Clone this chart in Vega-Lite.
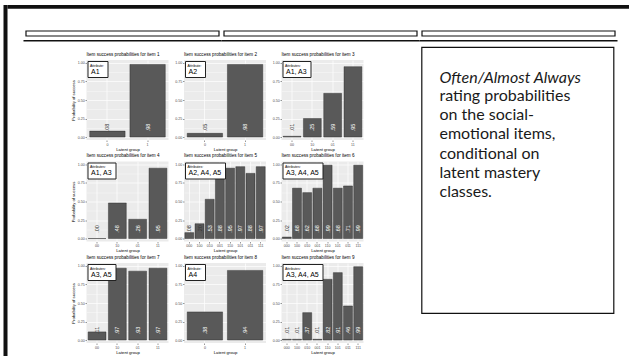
{
"$schema": "https://vega.github.io/schema/vega-lite/v6.json",
"padding": {"left": 3.5, "top": 5, "right": 0, "bottom": 0},
"background": "white",
"datasets": {
"d": [
{"item":1,"g":"0","p":0.08,"lab":".08","attr":"A1"},
{"item":1,"g":"1","p":0.98,"lab":".98","attr":"A1"},
{"item":2,"g":"0","p":0.05,"lab":".05","attr":"A2"},
{"item":2,"g":"1","p":0.98,"lab":".98","attr":"A2"},
{"item":3,"g":"00","p":0.01,"lab":".01","attr":"A1, A3"},
{"item":3,"g":"10","p":0.25,"lab":".25","attr":"A1, A3"},
{"item":3,"g":"01","p":0.59,"lab":".59","attr":"A1, A3"},
{"item":3,"g":"11","p":0.95,"lab":".95","attr":"A1, A3"},
{"item":4,"g":"00","p":0.0,"lab":".00","attr":"A1, A3"},
{"item":4,"g":"10","p":0.48,"lab":".48","attr":"A1, A3"},
{"item":4,"g":"01","p":0.26,"lab":".26","attr":"A1, A3"},
{"item":4,"g":"11","p":0.95,"lab":".95","attr":"A1, A3"},
{"item":5,"g":"000","p":0.08,"lab":".08","attr":"A2, A4, A5"},
{"item":5,"g":"100","p":0.2,"lab":".20","attr":"A2, A4, A5"},
{"item":5,"g":"010","p":0.53,"lab":".53","attr":"A2, A4, A5"},
{"item":5,"g":"001","p":0.88,"lab":".88","attr":"A2, A4, A5"},
{"item":5,"g":"110","p":0.95,"lab":".95","attr":"A2, A4, A5"},
{"item":5,"g":"101","p":0.97,"lab":".97","attr":"A2, A4, A5"},
{"item":5,"g":"011","p":0.88,"lab":".88","attr":"A2, A4, A5"},
{"item":5,"g":"111","p":0.97,"lab":".97","attr":"A2, A4, A5"},
{"item":6,"g":"000","p":0.02,"lab":".02","attr":"A3, A4, A5"},
{"item":6,"g":"100","p":0.68,"lab":".68","attr":"A3, A4, A5"},
{"item":6,"g":"010","p":0.62,"lab":".62","attr":"A3, A4, A5"},
{"item":6,"g":"001","p":0.68,"lab":".68","attr":"A3, A4, A5"},
{"item":6,"g":"110","p":0.99,"lab":".99","attr":"A3, A4, A5"},
{"item":6,"g":"101","p":0.68,"lab":".68","attr":"A3, A4, A5"},
{"item":6,"g":"011","p":0.71,"lab":".71","attr":"A3, A4, A5"},
{"item":6,"g":"111","p":0.99,"lab":".99","attr":"A3, A4, A5"},
{"item":7,"g":"00","p":0.11,"lab":".11","attr":"A3, A5"},
{"item":7,"g":"10","p":0.97,"lab":".97","attr":"A3, A5"},
{"item":7,"g":"01","p":0.93,"lab":".93","attr":"A3, A5"},
{"item":7,"g":"11","p":0.97,"lab":".97","attr":"A3, A5"},
{"item":8,"g":"0","p":0.38,"lab":".38","attr":"A4"},
{"item":8,"g":"1","p":0.94,"lab":".94","attr":"A4"},
{"item":9,"g":"000","p":0.01,"lab":".01","attr":"A3, A4, A5"},
{"item":9,"g":"100","p":0.01,"lab":".01","attr":"A3, A4, A5"},
{"item":9,"g":"010","p":0.37,"lab":".37","attr":"A3, A4, A5"},
{"item":9,"g":"001","p":0.01,"lab":".01","attr":"A3, A4, A5"},
{"item":9,"g":"110","p":0.82,"lab":".82","attr":"A3, A4, A5"},
{"item":9,"g":"101","p":0.91,"lab":".91","attr":"A3, A4, A5"},
{"item":9,"g":"011","p":0.46,"lab":".46","attr":"A3, A4, A5"},
{"item":9,"g":"111","p":0.99,"lab":".99","attr":"A3, A4, A5"}
],
"seg": [{"s":"1"},{"s":"2"},{"s":"3"}],
"one": [{}]
},
"config": {
"view": {"stroke": null},
"font": "Liberation Sans",
"axis": {"labelFont": "Liberation Sans", "labelFontSize": 3.6, "labelColor": "#4D4D4D", "tickColor": "#333", "tickSize": 1.5, "tickWidth": 0.5, "domain": false, "gridColor": "white", "gridWidth": 0.7, "labelPadding": 0.8, "titleFont": "Liberation Sans", "titleFontSize": 4.2, "titleFontWeight": "normal", "titleColor": "black", "titlePadding": 1.5},
"axisX": {"labelAngle": 0, "grid": true},
"axisY": {"grid": true},
"title": {"font": "Liberation Sans", "fontSize": 4.6, "fontWeight": "normal", "color": "black", "anchor": "start", "frame": "group", "offset": 3.5},
"legend": {"orient": "top-left", "offset": 1, "fillColor": "white", "strokeColor": "#222", "padding": 2.5, "titleFont": "Liberation Sans", "titleFontSize": 3.5, "titleFontWeight": "normal", "titleColor": "black", "titlePadding": 1, "labelFont": "Liberation Sans", "labelFontSize": 7, "labelColor": "black", "symbolSize": 0, "symbolStrokeWidth": 0, "labelOffset": -6, "rowPadding": 0, "cornerRadius": 0}
},
"bounds": "flush", "spacing": 0,
"resolve": {"scale": {"x": "independent", "y": "independent", "color": "independent"}, "legend": {"color": "independent"}, "axis": {"x": "independent", "y": "independent"}},
"hconcat": [
{"width": 4, "height": 351, "view": {"fill": "#111"}, "data": {"name": "one"}, "mark": {"type": "text", "fontSize": 0}, "encoding": {"text": {"value": ""}}},
{"bounds": "flush", "spacing": 0,
"resolve": {"scale": {"x": "independent", "y": "independent", "color": "independent"}, "legend": {"color": "independent"}, "axis": {"x": "independent", "y": "independent"}},
"vconcat": [
{"width": 623, "height": 3.7, "view": {"fill": "#111"}, "data": {"name": "one"}, "mark": {"type": "text", "fontSize": 0}, "encoding": {"text": {"value": ""}}},
{"width": 1, "height": 21.3, "data": {"name": "one"}, "mark": {"type": "text", "fontSize": 0}, "encoding": {"text": {"value": ""}}},
{"width": 626, "height": 5, "data": {"name": "seg"}, "mark": {"type": "bar", "fill": "white", "stroke": "#111", "strokeWidth": 1.2},
 "encoding": {"x": {"field": "s", "type": "nominal", "axis": null, "scale": {"paddingInner": 0.02525, "paddingOuter": 0.0934}}}},
{"width": 1, "height": 3.2, "data": {"name": "one"}, "mark": {"type": "text", "fontSize": 0}, "encoding": {"text": {"value": ""}}},
{"width": 626, "height": 1.5, "data": {"name": "seg"}, "mark": {"type": "bar", "fill": "#111", "width": {"band": 1.026}},
 "encoding": {"x": {"field": "s", "type": "nominal", "axis": null, "scale": {"paddingInner": 0.02525, "paddingOuter": 0.0934}}}},
{"width": 1, "height": 4.3, "data": {"name": "one"}, "mark": {"type": "text", "fontSize": 0}, "encoding": {"text": {"value": ""}}},
{"bounds": "flush", "spacing": 0,
"resolve": {"scale": {"x": "independent", "y": "independent", "color": "independent"}, "legend": {"color": "independent"}, "axis": {"x": "independent", "y": "independent"}},
"hconcat": [
{"width": 78.5, "height": 1, "data": {"name": "one"}, "mark": {"type": "text", "fontSize": 0}, "encoding": {"text": {"value": ""}}},
{"bounds": "flush", "spacing": 0,
"resolve": {"scale": {"x": "independent", "y": "independent", "color": "independent"}, "legend": {"color": "independent"}, "axis": {"x": "independent", "y": "independent"}},
"vconcat": [
{"width": 1, "height": 13, "data": {"name": "one"}, "mark": {"type": "text", "fontSize": 0}, "encoding": {"text": {"value": ""}}},
{"bounds": "flush", "columns": 3, "spacing": {"row": 21.5, "column": 15.5},
"resolve": {"scale": {"x": "independent", "y": "independent", "color": "independent"}, "legend": {"color": "independent"}, "axis": {"x": "independent", "y": "independent"}},
"concat": [
{"width": 82, "height": 80, "view": {"fill": "#EBEBEB"}, "title": "Item success probabilities for item 1", "data": {"name": "d"}, "transform": [{"filter": "datum.item == 1"}],
 "encoding": {"x": {"field": "g", "type": "nominal", "sort": null, "title": "Latent group", "scale": {"paddingInner": 0.12, "paddingOuter": 0.08}}},
 "resolve": {"axis": {"y": "independent"}},
 "layer": [
  {"mark": {"type": "bar", "stroke": "#222", "strokeWidth": 0.4},
   "encoding": {"y": {"field": "p", "type": "quantitative", "title": "Probability of success", "scale": {"domain": [-0.04, 1.04], "nice": false}, "axis": {"values": [0, 0.25, 0.5, 0.75, 1], "format": ".2f"}},
    "color": {"field": "attr", "type": "nominal", "scale": {"range": ["#595959"]}, "legend": {"title": "Attribute:", "symbolSize": 0, "symbolType": "stroke"}}}},
  {"mark": {"type": "text", "angle": 270, "fontSize": 5.5, "baseline": "middle", "align": "center"},
   "encoding": {"y": {"datum": 0.13, "axis": {"values": [0.125, 0.375, 0.625, 0.875], "labels": false, "ticks": false, "domain": false, "grid": true, "gridWidth": 0.35, "title": null, "orient": "left"}}, "text": {"field": "lab"}, "color": {"condition": {"test": "datum.p > 0.2", "value": "white"}, "value": "#333"}}}
 ]},
{"width": 82, "height": 80, "view": {"fill": "#EBEBEB"}, "title": "Item success probabilities for item 2", "data": {"name": "d"}, "transform": [{"filter": "datum.item == 2"}],
 "encoding": {"x": {"field": "g", "type": "nominal", "sort": null, "title": "Latent group", "scale": {"paddingInner": 0.12, "paddingOuter": 0.08}}},
 "resolve": {"axis": {"y": "independent"}},
 "layer": [
  {"mark": {"type": "bar", "stroke": "#222", "strokeWidth": 0.4},
   "encoding": {"y": {"field": "p", "type": "quantitative", "title": null, "scale": {"domain": [-0.04, 1.04], "nice": false}, "axis": {"values": [0, 0.25, 0.5, 0.75, 1], "format": ".2f"}},
    "color": {"field": "attr", "type": "nominal", "scale": {"range": ["#595959"]}, "legend": {"title": "Attribute:", "symbolSize": 0, "symbolType": "stroke"}}}},
  {"mark": {"type": "text", "angle": 270, "fontSize": 5.5, "baseline": "middle", "align": "center"},
   "encoding": {"y": {"datum": 0.13, "axis": {"values": [0.125, 0.375, 0.625, 0.875], "labels": false, "ticks": false, "domain": false, "grid": true, "gridWidth": 0.35, "title": null, "orient": "left"}}, "text": {"field": "lab"}, "color": {"condition": {"test": "datum.p > 0.2", "value": "white"}, "value": "#333"}}}
 ]},
{"width": 82, "height": 80, "view": {"fill": "#EBEBEB"}, "title": "Item success probabilities for item 3", "data": {"name": "d"}, "transform": [{"filter": "datum.item == 3"}],
 "encoding": {"x": {"field": "g", "type": "nominal", "sort": null, "title": "Latent group", "scale": {"paddingInner": 0.12, "paddingOuter": 0.08}}},
 "resolve": {"axis": {"y": "independent"}},
 "layer": [
  {"mark": {"type": "bar", "stroke": "#222", "strokeWidth": 0.4},
   "encoding": {"y": {"field": "p", "type": "quantitative", "title": null, "scale": {"domain": [-0.04, 1.04], "nice": false}, "axis": {"values": [0, 0.25, 0.5, 0.75, 1], "format": ".2f"}},
    "color": {"field": "attr", "type": "nominal", "scale": {"range": ["#595959"]}, "legend": {"title": "Attributes:", "symbolSize": 0, "symbolType": "stroke"}}}},
  {"mark": {"type": "text", "angle": 270, "fontSize": 5.5, "baseline": "middle", "align": "center"},
   "encoding": {"y": {"datum": 0.13, "axis": {"values": [0.125, 0.375, 0.625, 0.875], "labels": false, "ticks": false, "domain": false, "grid": true, "gridWidth": 0.35, "title": null, "orient": "left"}}, "text": {"field": "lab"}, "color": {"condition": {"test": "datum.p > 0.2", "value": "white"}, "value": "#333"}}}
 ]},
{"width": 82, "height": 80, "view": {"fill": "#EBEBEB"}, "title": "Item success probabilities for item 4", "data": {"name": "d"}, "transform": [{"filter": "datum.item == 4"}],
 "encoding": {"x": {"field": "g", "type": "nominal", "sort": null, "title": "Latent group", "scale": {"paddingInner": 0.12, "paddingOuter": 0.08}}},
 "resolve": {"axis": {"y": "independent"}},
 "layer": [
  {"mark": {"type": "bar", "stroke": "#222", "strokeWidth": 0.4},
   "encoding": {"y": {"field": "p", "type": "quantitative", "title": "Probability of success", "scale": {"domain": [-0.04, 1.04], "nice": false}, "axis": {"values": [0, 0.25, 0.5, 0.75, 1], "format": ".2f"}},
    "color": {"field": "attr", "type": "nominal", "scale": {"range": ["#595959"]}, "legend": {"title": "Attributes:", "symbolSize": 0, "symbolType": "stroke"}}}},
  {"mark": {"type": "text", "angle": 270, "fontSize": 5.5, "baseline": "middle", "align": "center"},
   "encoding": {"y": {"datum": 0.13, "axis": {"values": [0.125, 0.375, 0.625, 0.875], "labels": false, "ticks": false, "domain": false, "grid": true, "gridWidth": 0.35, "title": null, "orient": "left"}}, "text": {"field": "lab"}, "color": {"condition": {"test": "datum.p > 0.2", "value": "white"}, "value": "#333"}}}
 ]},
{"width": 82, "height": 80, "view": {"fill": "#EBEBEB"}, "title": "Item success probabilities for item 5", "data": {"name": "d"}, "transform": [{"filter": "datum.item == 5"}],
 "encoding": {"x": {"field": "g", "type": "nominal", "sort": null, "title": "Latent group", "scale": {"paddingInner": 0.12, "paddingOuter": 0.08}}},
 "resolve": {"axis": {"y": "independent"}},
 "layer": [
  {"mark": {"type": "bar", "stroke": "#222", "strokeWidth": 0.4},
   "encoding": {"y": {"field": "p", "type": "quantitative", "title": null, "scale": {"domain": [-0.04, 1.04], "nice": false}, "axis": {"values": [0, 0.25, 0.5, 0.75, 1], "format": ".2f"}},
    "color": {"field": "attr", "type": "nominal", "scale": {"range": ["#595959"]}, "legend": {"title": "Attributes:", "symbolSize": 0, "symbolType": "stroke"}}}},
  {"mark": {"type": "text", "angle": 270, "fontSize": 5.5, "baseline": "middle", "align": "center"},
   "encoding": {"y": {"datum": 0.13, "axis": {"values": [0.125, 0.375, 0.625, 0.875], "labels": false, "ticks": false, "domain": false, "grid": true, "gridWidth": 0.35, "title": null, "orient": "left"}}, "text": {"field": "lab"}, "color": {"condition": {"test": "datum.p > 0.2", "value": "white"}, "value": "#333"}}}
 ]},
{"width": 82, "height": 80, "view": {"fill": "#EBEBEB"}, "title": "Item success probabilities for item 6", "data": {"name": "d"}, "transform": [{"filter": "datum.item == 6"}],
 "encoding": {"x": {"field": "g", "type": "nominal", "sort": null, "title": "Latent group", "scale": {"paddingInner": 0.12, "paddingOuter": 0.08}}},
 "resolve": {"axis": {"y": "independent"}},
 "layer": [
  {"mark": {"type": "bar", "stroke": "#222", "strokeWidth": 0.4},
   "encoding": {"y": {"field": "p", "type": "quantitative", "title": null, "scale": {"domain": [-0.04, 1.04], "nice": false}, "axis": {"values": [0, 0.25, 0.5, 0.75, 1], "format": ".2f"}},
    "color": {"field": "attr", "type": "nominal", "scale": {"range": ["#595959"]}, "legend": {"title": "Attributes:", "symbolSize": 0, "symbolType": "stroke"}}}},
  {"mark": {"type": "text", "angle": 270, "fontSize": 5.5, "baseline": "middle", "align": "center"},
   "encoding": {"y": {"datum": 0.13, "axis": {"values": [0.125, 0.375, 0.625, 0.875], "labels": false, "ticks": false, "domain": false, "grid": true, "gridWidth": 0.35, "title": null, "orient": "left"}}, "text": {"field": "lab"}, "color": {"condition": {"test": "datum.p > 0.2", "value": "white"}, "value": "#333"}}}
 ]},
{"width": 82, "height": 80, "view": {"fill": "#EBEBEB"}, "title": "Item success probabilities for item 7", "data": {"name": "d"}, "transform": [{"filter": "datum.item == 7"}],
 "encoding": {"x": {"field": "g", "type": "nominal", "sort": null, "title": "Latent group", "scale": {"paddingInner": 0.12, "paddingOuter": 0.08}}},
 "resolve": {"axis": {"y": "independent"}},
 "layer": [
  {"mark": {"type": "bar", "stroke": "#222", "strokeWidth": 0.4},
   "encoding": {"y": {"field": "p", "type": "quantitative", "title": "Probability of success", "scale": {"domain": [-0.04, 1.04], "nice": false}, "axis": {"values": [0, 0.25, 0.5, 0.75, 1], "format": ".2f"}},
    "color": {"field": "attr", "type": "nominal", "scale": {"range": ["#595959"]}, "legend": {"title": "Attributes:", "symbolSize": 0, "symbolType": "stroke"}}}},
  {"mark": {"type": "text", "angle": 270, "fontSize": 5.5, "baseline": "middle", "align": "center"},
   "encoding": {"y": {"datum": 0.13, "axis": {"values": [0.125, 0.375, 0.625, 0.875], "labels": false, "ticks": false, "domain": false, "grid": true, "gridWidth": 0.35, "title": null, "orient": "left"}}, "text": {"field": "lab"}, "color": {"condition": {"test": "datum.p > 0.2", "value": "white"}, "value": "#333"}}}
 ]},
{"width": 82, "height": 80, "view": {"fill": "#EBEBEB"}, "title": "Item success probabilities for item 8", "data": {"name": "d"}, "transform": [{"filter": "datum.item == 8"}],
 "encoding": {"x": {"field": "g", "type": "nominal", "sort": null, "title": "Latent group", "scale": {"paddingInner": 0.12, "paddingOuter": 0.08}}},
 "resolve": {"axis": {"y": "independent"}},
 "layer": [
  {"mark": {"type": "bar", "stroke": "#222", "strokeWidth": 0.4},
   "encoding": {"y": {"field": "p", "type": "quantitative", "title": null, "scale": {"domain": [-0.04, 1.04], "nice": false}, "axis": {"values": [0, 0.25, 0.5, 0.75, 1], "format": ".2f"}},
    "color": {"field": "attr", "type": "nominal", "scale": {"range": ["#595959"]}, "legend": {"title": "Attribute:", "symbolSize": 0, "symbolType": "stroke"}}}},
  {"mark": {"type": "text", "angle": 270, "fontSize": 5.5, "baseline": "middle", "align": "center"},
   "encoding": {"y": {"datum": 0.13, "axis": {"values": [0.125, 0.375, 0.625, 0.875], "labels": false, "ticks": false, "domain": false, "grid": true, "gridWidth": 0.35, "title": null, "orient": "left"}}, "text": {"field": "lab"}, "color": {"condition": {"test": "datum.p > 0.2", "value": "white"}, "value": "#333"}}}
 ]},
{"width": 82, "height": 80, "view": {"fill": "#EBEBEB"}, "title": "Item success probabilities for item 9", "data": {"name": "d"}, "transform": [{"filter": "datum.item == 9"}],
 "encoding": {"x": {"field": "g", "type": "nominal", "sort": null, "title": "Latent group", "scale": {"paddingInner": 0.12, "paddingOuter": 0.08}}},
 "resolve": {"axis": {"y": "independent"}},
 "layer": [
  {"mark": {"type": "bar", "stroke": "#222", "strokeWidth": 0.4},
   "encoding": {"y": {"field": "p", "type": "quantitative", "title": null, "scale": {"domain": [-0.04, 1.04], "nice": false}, "axis": {"values": [0, 0.25, 0.5, 0.75, 1], "format": ".2f"}},
    "color": {"field": "attr", "type": "nominal", "scale": {"range": ["#595959"]}, "legend": {"title": "Attributes:", "symbolSize": 0, "symbolType": "stroke"}}}},
  {"mark": {"type": "text", "angle": 270, "fontSize": 5.5, "baseline": "middle", "align": "center"},
   "encoding": {"y": {"datum": 0.13, "axis": {"values": [0.125, 0.375, 0.625, 0.875], "labels": false, "ticks": false, "domain": false, "grid": true, "gridWidth": 0.35, "title": null, "orient": "left"}}, "text": {"field": "lab"}, "color": {"condition": {"test": "datum.p > 0.2", "value": "white"}, "value": "#333"}}}
 ]}
]}
]},
{"width": 335, "height": 1, "data": {"name": "one"}, "mark": {"type": "text", "fontSize": 0}, "encoding": {"text": {"value": ""}}},
{"width": 192, "height": 266, "view": {"fill": "white", "stroke": "#111", "strokeWidth": 1.2}, "data": {"name": "one"}, "mark": {"type": "text", "fontSize": 0}, "encoding": {"text": {"value": ""}},
 "title": {"text": "Often/Almost Always", "subtitle": ["rating probabilities", "on the social-", "emotional items,", "conditional on", "latent mastery", "classes."], "anchor": "start", "frame": "group", "orient": "top", "dx": 18, "offset": -153, "font": "Lato", "fontSize": 16, "fontStyle": "italic", "fontWeight": "normal", "color": "#1a1a1a", "subtitleFont": "Lato", "subtitleFontSize": 16, "subtitleColor": "#1a1a1a", "subtitleLineHeight": 19.2, "subtitlePadding": 2}}
]}
]}
]
}
